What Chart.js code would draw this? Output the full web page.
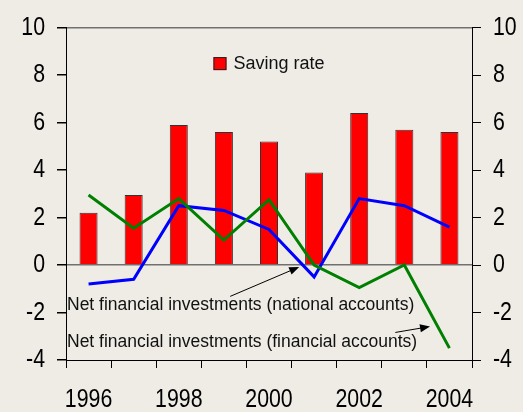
<!DOCTYPE html>
<html>
<head>
<meta charset="utf-8">
<script src="https://cdn.jsdelivr.net/npm/chart.js@4.4.0/dist/chart.umd.min.js"></script>
<style>
  html, body { margin: 0; padding: 0; background: #efece6; }
</style>
</head>
<body>
<canvas id="grafica" width="523" height="412"></canvas>
<script>
const years = ["1996", "1997", "1998", "1999", "2000", "2001", "2002", "2003", "2004"]
const savingRate = [2.2, 2.95, 5.9, 5.6, 5.2, 3.9, 6.4, 5.7, 5.6]
const nfiNational = [-0.8, -0.6, 2.5, 2.3, 1.5, -0.5, 2.8, 2.5, 1.6]
const nfiFinancial = [2.95, 1.55, 2.8, 1.05, 2.75, 0, -0.95, 0, -3.5]
const yMin = -4
const yMax = 10
const yStep = 2

const legendLabel = "Saving rate"
const noteNational = "Net financial investments (national accounts)"
const noteFinancial = "Net financial investments (financial accounts)"

// axis numbers are a narrow face in the original; no narrow font here,
// so the tick text gets squeezed sideways when it is drawn
const tickFont = { family: "'Liberation Sans', Arial", size: 26 }
const squeeze = 0.82

// notes: text row (y value) and arrow from/to in data units
const notes = [
    { text: noteNational, y: -1.7, from: [3.14, -1.32], to: [4.67, -0.08] },
    { text: noteFinancial, y: -3.25, from: [6.8, -2.84], to: [7.57, -2.59] }
]

const narrowTicks = {
    id: "narrowTicks",
    beforeDraw(chart) {
        const ctx = chart.ctx
        if (ctx._squeezed) return
        const orig = ctx.fillText
        ctx.fillText = function (t, x, y, w) {
            if (this.font.indexOf(tickFont.size + "px") >= 0) {
                this.save()
                this.translate(x, y)
                this.scale(squeeze, 1)
                orig.call(this, t, 0, 0)
                this.restore()
            } else if (w === undefined) {
                orig.call(this, t, x, y)
            } else {
                orig.call(this, t, x, y, w)
            }
        }
        ctx._squeezed = true
    }
}

const extras = {
    id: "extras",
    afterDraw(chart) {
        const ctx = chart.ctx
        const area = chart.chartArea
        const xs = chart.scales.x
        const ys = chart.scales.y

        // legend inside the plot
        ctx.save()
        ctx.font = "18px 'Liberation Sans', Arial"
        const tw = ctx.measureText(legendLabel).width
        const total = 13 + 7 + tw
        const lx = (area.left + area.right) / 2 - total / 2
        const ly = area.top + 36
        ctx.fillStyle = "#ff0000"
        ctx.fillRect(lx, ly - 6.5, 13, 13)
        ctx.strokeStyle = "#222"
        ctx.lineWidth = 1
        ctx.strokeRect(lx + 0.5, ly - 6, 12, 12)
        ctx.fillStyle = "#111"
        ctx.textBaseline = "middle"
        ctx.fillText(legendLabel, lx + 20, ly)

        // notes with arrows
        ctx.font = "17.5px 'Liberation Sans', Arial"
        for (const n of notes) {
            ctx.fillStyle = "#111"
            ctx.fillText(n.text, area.left + 1, ys.getPixelForValue(n.y))
            const x1 = xs.getPixelForValue(n.from[0]), y1 = ys.getPixelForValue(n.from[1])
            const x2 = xs.getPixelForValue(n.to[0]), y2 = ys.getPixelForValue(n.to[1])
            const ang = Math.atan2(y2 - y1, x2 - x1)
            ctx.strokeStyle = "#000"
            ctx.lineWidth = 1
            ctx.beginPath()
            ctx.moveTo(x1, y1)
            ctx.lineTo(x2 - 8 * Math.cos(ang), y2 - 8 * Math.sin(ang))
            ctx.stroke()
            ctx.fillStyle = "#000"
            ctx.beginPath()
            ctx.moveTo(x2, y2)
            ctx.lineTo(x2 - 10 * Math.cos(ang) + 4 * Math.sin(ang), y2 - 10 * Math.sin(ang) - 4 * Math.cos(ang))
            ctx.lineTo(x2 - 10 * Math.cos(ang) - 4 * Math.sin(ang), y2 - 10 * Math.sin(ang) + 4 * Math.cos(ang))
            ctx.closePath()
            ctx.fill()
        }
        ctx.restore()
    }
}

const config = {
    type: "bar",
    data: {
        labels: years,
        datasets: [
            {
                type: "bar",
                label: legendLabel,
                data: savingRate,
                backgroundColor: "#ff0000",
                borderColor: "#333",
                borderWidth: 1,
                barPercentage: 0.4,
                categoryPercentage: 1,
                order: 3
            },
            {
                type: "line",
                label: noteNational,
                data: nfiNational,
                borderColor: "#0000ff",
                borderWidth: 3,
                pointRadius: 0,
                tension: 0,
                fill: false,
                order: 2
            },
            {
                type: "line",
                label: noteFinancial,
                data: nfiFinancial,
                borderColor: "#008000",
                borderWidth: 3,
                pointRadius: 0,
                tension: 0,
                fill: false,
                order: 1
            }
        ]
    },
    options: {
        responsive: false,
        animation: false,
        devicePixelRatio: 1,
        layout: { padding: { top: 20, left: 0, right: 0, bottom: 0 } },
        plugins: {
            legend: { display: false },
            tooltip: { enabled: false }
        },
        scales: {
            x: {
                offset: true,
                grid: { offset: true, drawOnChartArea: false, drawTicks: true, tickLength: 8, color: "#000" },
                border: { color: "#000" },
                ticks: {
                    autoSkip: false,
                    maxRotation: 0,
                    padding: 16,
                    font: tickFont,
                    color: "#000",
                    callback: (v, i) => i % 2 === 0 ? years[i] : ""
                },
                afterFit: s => { s.height = 52 }
            },
            y: {
                position: "left",
                min: yMin,
                max: yMax,
                ticks: { stepSize: yStep, padding: 12, font: tickFont, color: "#000" },
                grid: {
                    color: c => (c.tick && (c.tick.value === 0 || c.tick.value === yMax)) ? "#707070" : "rgba(0,0,0,0)",
                    lineWidth: 1.5,
                    tickColor: "#000",
                    tickLength: 9
                },
                border: { color: "#000" },
                afterFit: s => { s.width = 66 }
            },
            y2: {
                position: "right",
                min: yMin,
                max: yMax,
                ticks: { stepSize: yStep, padding: 12, font: tickFont, color: "#000" },
                grid: { drawOnChartArea: false, tickColor: "#000", tickLength: 9 },
                border: { color: "#000" },
                afterFit: s => { s.width = 51 }
            }
        }
    },
    plugins: [narrowTicks, extras]
}

const chart = new Chart(document.getElementById("grafica"), config)
</script>
</body>
</html>
